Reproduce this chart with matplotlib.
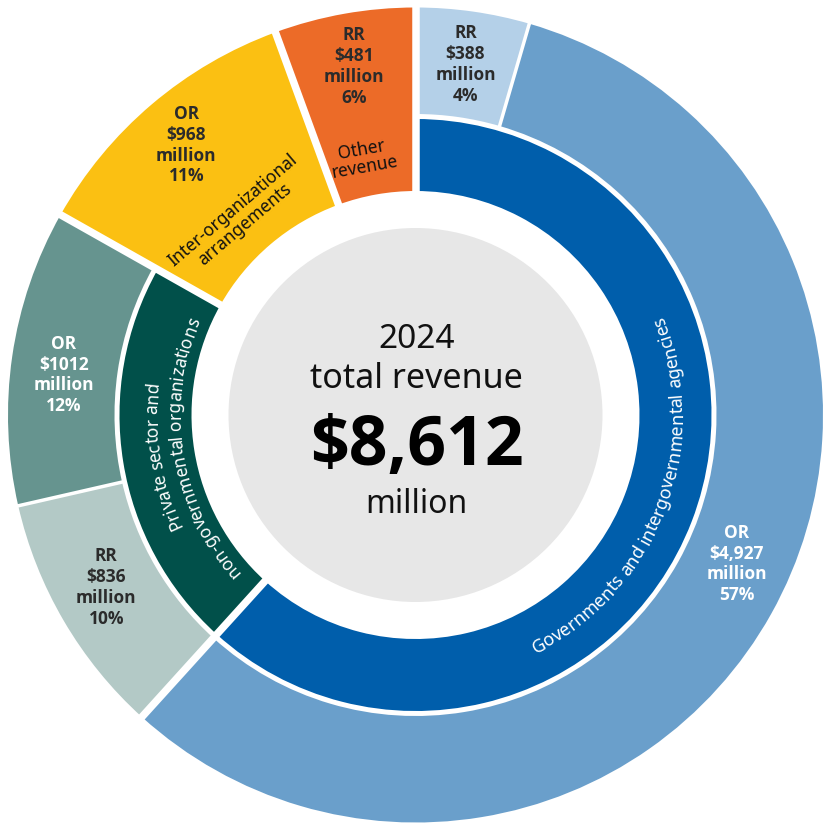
import matplotlib.pyplot as plt
import numpy as np
from matplotlib.font_manager import FontProperties
from matplotlib.patches import Circle, Wedge

FONT = ["Noto Sans", "DejaVu Sans"]
BOLD_FONT = ["Open Sans", "DejaVu Sans"]
plt.rcParams["font.family"] = FONT

# 2024 revenue, in million USD
year = 2024
total = 8612

# inner ring: funding source groups, clockwise from 12 o'clock
group_names = [
    "Governments and intergovernmental agencies",
    "Private sector and\nnon-governmental organizations",
    "Inter-organizational\narrangements",
    "Other\nrevenue",
]
group_colors = ["#005eab", "#01504a", "#fbc012", "#ec6b28"]

# outer ring: RR / OR split for each group
seg_group = [0, 0, 1, 1, 2, 3]
seg_type = ["RR", "OR", "RR", "OR", "OR", "RR"]
seg_value = [388, 4927, 836, 1012, 968, 481]
seg_amount = ["$388", "$4,927", "$836", "$1012", "$968", "$481"]
seg_pct = [4, 57, 10, 12, 11, 6]
seg_colors = ["#b4d0e8", "#6a9fcb", "#b3c9c6", "#66948f", "#fbc012", "#ec6b28"]
seg_text_colors = ["#2b2b2b", "white", "#2b2b2b", "white", "#2b2b2b", "#2b2b2b"]

W, H = 826, 825
cx, cy = 415.5, 415
r_gray, r_in, r_mid, r_out = 187, 224, 298.5, 407.5


def polar(a, r):
    # a: degrees clockwise from 12 o'clock, image coords (y down)
    t = np.radians(a)
    return cx + r * np.sin(t), cy - r * np.cos(t)


def arc_text(ax, text, ang, radius, size, color, outward=True, weight="normal"):
    renderer = ax.figure.canvas.get_renderer()
    fp = FontProperties(family=FONT, size=size, weight=weight)

    def width(s):
        return renderer.get_text_width_height_descent(s, fp, ismath=False)[0]

    bar = width("|")
    ends = [width(text[: i + 1] + "|") - bar for i in range(len(text))]
    starts = [0] + ends[:-1]
    total_w = ends[-1]
    sign = 1 if outward else -1
    for ch, s0, s1 in zip(text, starts, ends):
        if ch == " ":
            continue
        s = (s0 + s1) / 2 - total_w / 2
        a = ang + sign * np.degrees(s / radius)
        x, y = polar(a, radius)
        rot = -a if outward else 180 - a
        ax.text(x, y, ch, rotation=rot, rotation_mode="anchor", ha="center",
                va="baseline", fontproperties=fp, color=color)


def main():
    fig = plt.figure(figsize=(W / 100, H / 100), dpi=100)
    ax = fig.add_axes([0, 0, 1, 1])
    ax.set_xlim(0, W)
    ax.set_ylim(H, 0)
    ax.set_aspect("equal")
    ax.axis("off")

    values = np.array(seg_value, dtype=float)
    edges = np.concatenate([[0], np.cumsum(values)]) / total * 360
    n_groups = len(group_names)
    group_start = [edges[seg_group.index(g)] for g in range(n_groups)]
    group_end = [edges[len(seg_group) - seg_group[::-1].index(g)] for g in range(n_groups)]
    group_count = [seg_group.count(g) for g in range(n_groups)]

    ring_gap = 5
    # inner ring (only for groups split into RR / OR)
    for g in range(n_groups):
        if group_count[g] > 1:
            ax.add_patch(Wedge((cx, cy), r_mid - ring_gap / 2, group_start[g] - 90,
                               group_end[g] - 90, width=r_mid - ring_gap / 2 - r_in,
                               color=group_colors[g], lw=0))

    # outer ring
    for i, g in enumerate(seg_group):
        r0 = r_mid + ring_gap / 2 if group_count[g] > 1 else r_in
        ax.add_patch(Wedge((cx, cy), r_out, edges[i] - 90, edges[i + 1] - 90,
                           width=r_out - r0, color=seg_colors[i], lw=0))

    # white gaps between slices
    for i in range(len(seg_group)):
        a = edges[i]
        new_group = i == 0 or seg_group[i] != seg_group[i - 1]
        r0 = r_in - 6 if new_group else r_mid
        lw = 7.5 if new_group else 3.5
        x0, y0 = polar(a, r0)
        x1, y1 = polar(a, r_out + 6)
        ax.plot([x0, x1], [y0, y1], color="white", lw=lw * 72 / 100,
                solid_capstyle="butt")

    # centre
    ax.add_patch(Circle((cx, cy), r_gray, color="#e7e7e7", lw=0))
    ax.text(cx + 1, 348, str(year), ha="center", va="baseline", fontsize=24,
            color="#111111")
    ax.text(cx + 1, 388, "total revenue", ha="center", va="baseline",
            fontsize=24.5, color="#111111")
    ax.text(cx + 1, 465, f"${total:,}", ha="center", va="baseline",
            fontsize=49, fontweight="bold", family=BOLD_FONT, color="#000000")
    ax.text(cx + 1, 513, "million", ha="center", va="baseline", fontsize=23,
            color="#111111")

    # slice labels
    label_nudge = {1: -4.3, 3: -1.8, 2: 1.2}
    for i in range(len(seg_group)):
        a = (edges[i] + edges[i + 1]) / 2 + label_nudge.get(i, 0)
        x, y = polar(a, 354)
        ax.text(x, y, f"{seg_type[i]}\n{seg_amount[i]}\nmillion\n{seg_pct[i]}%",
                ha="center", va="center", fontsize=12.5, fontweight="bold",
                family=BOLD_FONT, color=seg_text_colors[i], linespacing=1.2)

    # group names
    mid = [(s + e) / 2 for s, e in zip(group_start, group_end)]
    arc_text(ax, group_names[0], mid[0] - 0.5, 267, 13, "white", outward=False)
    line1, line2 = group_names[1].split("\n")
    arc_text(ax, line1, mid[1], 258, 12.5, "white", outward=True)
    arc_text(ax, line2, mid[1], 235, 12.5, "white", outward=True)
    for g, r in [(2, 265), (3, 262)]:
        x, y = polar(mid[g] - 1.5, r)
        ax.text(x, y, group_names[g], ha="center", va="center", fontsize=12.5,
                rotation=-mid[g], rotation_mode="anchor", color="#111111",
                linespacing=1.0)

    fig.savefig("out.png", dpi=100)


if __name__ == "__main__":
    main()
